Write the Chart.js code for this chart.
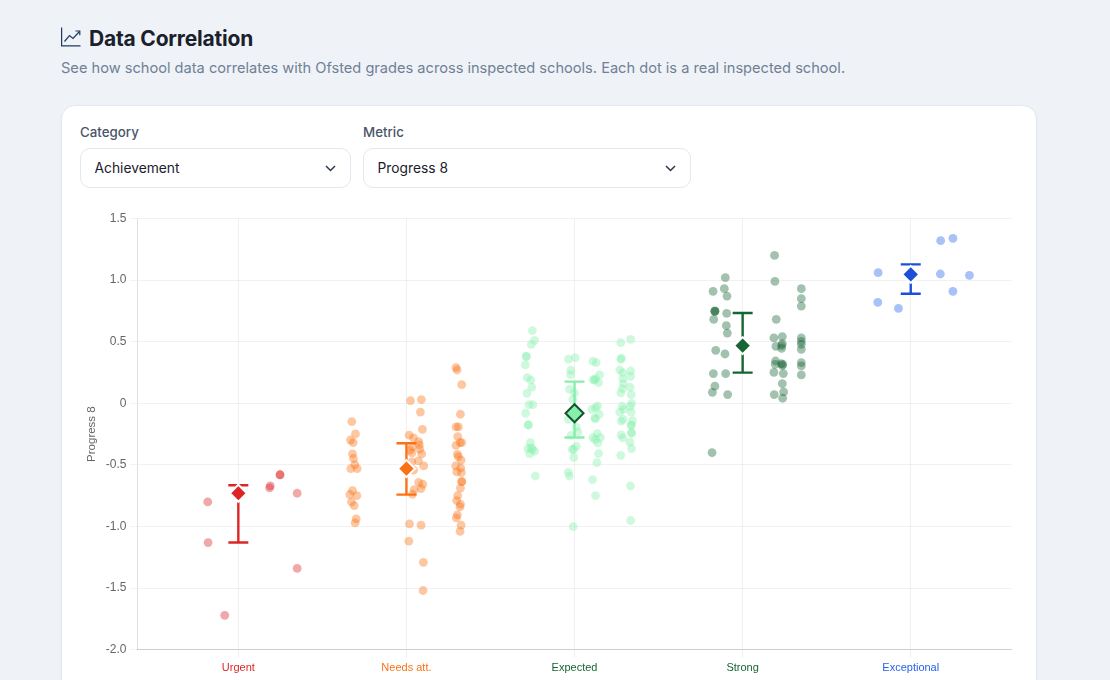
<!DOCTYPE html>
<html lang="en">
<head>
<meta charset="utf-8">
<title>Data Correlation</title>
<script src="https://cdn.jsdelivr.net/npm/chart.js@4/dist/chart.umd.min.js"></script>
<style>
  html, body { margin: 0; height: 100%; overflow: hidden; background: #eff3f8; font-family: Inter, sans-serif; }
  .page { position: relative; width: 1110px; height: 680px; overflow: hidden; }
  .heading { position: absolute; left: 61px; top: 24px; display: flex; align-items: center; gap: 8px; }
  .heading svg { margin-top: -3px; }
  .heading h1 { margin: 0; font-size: 21px; line-height: 29px; font-weight: 700; color: #1a202c; letter-spacing: -0.2px; }
  .intro { position: absolute; left: 61px; top: 58px; margin: 0; font-size: 14.62px; line-height: 20px; color: #718096; }
  .card { position: absolute; left: 61px; top: 105px; width: 974px; height: 640px; background: #fff; border: 1px solid #e2e8f0; border-radius: 14px; box-shadow: 0 1px 3px rgba(0,0,0,0.03); }
  .field { position: absolute; top: 124px; }
  .field label { display: block; font-size: 13.3px; line-height: 16px; font-weight: 550; color: #4a5568; margin-bottom: 8px; }
  .field select { appearance: none; display: block; height: 40px; box-sizing: border-box; padding: 0 13.5px; border: 1px solid #e2e8f0; border-radius: 10px; background: #fff; font: 13.8px Inter, sans-serif; color: #1a202c; }
  .field svg { position: absolute; right: 15px; top: 41px; }
  .plot { position: absolute; left: 81px; top: 206px; width: 943px; height: 473px; }
</style>
</head>
<body>
<div class="page">
  <div class="heading">
    <svg width="20" height="20" viewBox="0 0 20 20" fill="none" stroke="#1e3a5f" stroke-width="1.2">
      <path d="M0.6 0.5V18.9H19.5"/>
      <path d="M3.5 14.5L8.5 8.5L12 11.5L18.5 4.5"/>
      <path d="M14.5 4H18.8V8.3"/>
    </svg>
    <h1>Data Correlation</h1>
  </div>
  <p class="intro">See how school data correlates with Ofsted grades across inspected schools. Each dot is a real inspected school.</p>
  <div class="card"></div>
  <div class="field" style="left:80px;width:271px">
    <label for="category">Category</label>
    <select id="category" style="width:271px"><option>Achievement</option></select>
    <svg width="11" height="7" viewBox="0 0 11 7" fill="none" stroke="#2d3748" stroke-width="1.5"><path d="M1 1L5.5 5.5L10 1"/></svg>
  </div>
  <div class="field" style="left:363px;width:328px">
    <label for="metric">Metric</label>
    <select id="metric" style="width:328px"><option>Progress 8</option></select>
    <svg width="11" height="7" viewBox="0 0 11 7" fill="none" stroke="#2d3748" stroke-width="1.5"><path d="M1 1L5.5 5.5L10 1"/></svg>
  </div>
  <div class="plot"><canvas id="correlationChart"></canvas></div>
</div>

<script>
const grades = ['Urgent', 'Needs att.', 'Expected', 'Strong', 'Exceptional'];
const labelColors = ['#dc2626', '#f97316', '#166534', '#166534', '#2563eb'];
const gradeColors = ['#dc2626', '#f97316', '#86efac', '#166534', '#1d4ed8'];
const dotColors = [
  'rgba(220, 38, 38, 0.4)',
  'rgba(249, 115, 22, 0.4)',
  'rgba(134, 239, 172, 0.4)',
  'rgba(22, 101, 52, 0.4)',
  'rgba(37, 99, 235, 0.4)',
];

// median and quartiles per grade
const medians = [-0.73, -0.53, -0.081, 0.468, 1.046];
const lowerQuartiles = [-1.13, -0.741, -0.278, 0.249, 0.889];
const upperQuartiles = [-0.665, -0.324, 0.176, 0.732, 1.127];

// horizontal jitter of each school around its grade, and its Progress 8 score
const urgentJitter = [-0.182, -0.18, -0.081, 0.19, 0.186, 0.248, 0.248, 0.35, 0.35];
const urgentScores = [-0.8, -1.13, -1.72, -0.67, -0.687, -0.58, -0.58, -0.73, -1.34];

const needsJitter = [
  -0.325, -0.303, -0.333, -0.317, -0.321, -0.315, -0.307, -0.331, -0.293, -0.321, -0.337, -0.295, -0.327, -0.311, -0.299, -0.305,
  0.024, 0.089, 0.083, 0.095, 0.016, 0.042, 0.073, 0.077, 0.034, 0.022, 0.079, 0.091, 0.032, 0.071, 0.032, 0.103, 0.042, 0.073, 0.097, 0.087, 0.046, 0.036, 0.018, 0.087, 0.014, 0.101, 0.099,
  0.295, 0.301, 0.329, 0.321, 0.295, 0.309, 0.305, 0.319, 0.329, 0.295, 0.303, 0.309, 0.325, 0.293, 0.323, 0.299, 0.327, 0.329, 0.329, 0.321, 0.305, 0.299, 0.321, 0.319, 0.303, 0.297, 0.325, 0.319,
];
const needsScores = [
  -0.148, -0.249, -0.298, -0.319, -0.411, -0.448, -0.497, -0.53, -0.53, -0.708, -0.74, -0.749, -0.8, -0.83, -0.938, -0.971,
  0.022, 0.03, -0.071, -0.211, -0.259, -0.281, -0.311, -0.338, -0.354, -0.381, -0.373, -0.411, -0.403, -0.468, -0.476, -0.508, -0.543, -0.641, -0.657, -0.692, -0.7, -0.738, -0.979, -0.989, -1.119, -1.29, -1.519,
  0.29, 0.27, 0.152, -0.089, -0.192, -0.192, -0.27, -0.319, -0.319, -0.341, -0.414, -0.432, -0.462, -0.508, -0.525, -0.557, -0.562, -0.635, -0.635, -0.689, -0.749, -0.789, -0.819, -0.841, -0.906, -0.93, -0.989, -1.04,
];

const expectedJitter = [
  -0.251, -0.238, -0.257, -0.287, -0.287, -0.293, -0.281, -0.26, -0.254, -0.283, -0.271, -0.248, -0.291, -0.275, -0.275, -0.263, -0.277, -0.257, -0.251, -0.238, -0.267, -0.233,
  -0.036, 0.004, -0.022, -0.024, -0.03, 0, -0.01, -0.036, 0.01, 0.02, -0.02, 0.01, -0.006, -0.014, -0.004, -0.037, -0.031, -0.008,
  0.109, 0.129, 0.149, 0.125, 0.111, 0.119, 0.143, 0.137, 0.125, 0.103, 0.147, 0.121, 0.124, 0.135, 0.109, 0.123, 0.154, 0.138, 0.143, 0.133, 0.107, 0.125,
  0.334, 0.275, 0.279, 0.275, 0.269, 0.334, 0.287, 0.333, 0.287, 0.291, 0.285, 0.331, 0.275, 0.337, 0.283, 0.34, 0.331, 0.293, 0.269, 0.337, 0.289, 0.277, 0.345, 0.337, 0.337, 0.339, 0.339, 0.277, 0.287, 0.329, 0.339, 0.275, 0.333, 0.334,
];
const expectedScores = [
  0.59, 0.511, 0.478, 0.381, 0.381, 0.311, 0.208, 0.189, 0.13, 0.081, -0.011, -0.011, -0.081, -0.176, -0.176, -0.319, -0.367, -0.359, -0.375, -0.389, -0.408, -0.59,
  0.359, 0.371, 0.268, 0.233, 0.114, 0.084, 0.032, -0.13, -0.192, -0.233, -0.26, -0.349, -0.373, -0.375, -0.438, -0.56, -0.59, -1,
  0.341, 0.33, 0.23, 0.2, 0.192, 0.187, 0.168, -0.022, -0.035, -0.049, -0.089, -0.119, -0.127, -0.246, -0.278, -0.294, -0.278, -0.322, -0.408, -0.481, -0.619, -0.749,
  0.519, 0.492, 0.367, 0.357, 0.27, 0.262, 0.249, 0.219, 0.2, 0.16, 0.119, 0.13, 0.084, 0.071, -0.024, 0, -0.024, -0.049, -0.071, -0.071, -0.13, -0.144, -0.14, -0.178, -0.178, -0.241, -0.241, -0.257, -0.281, -0.316, -0.367, -0.422, -0.671, -0.951,
];

const strongJitter = [
  -0.103, -0.176, -0.109, -0.093, -0.165, -0.165, -0.165, -0.095, -0.172, -0.097, -0.091, -0.16, -0.105, -0.174, -0.101, -0.165, -0.18, -0.089, -0.182,
  0.19, 0.192, 0.2, 0.186, 0.236, 0.198, 0.236, 0.232, 0.232, 0.196, 0.194, 0.23, 0.239, 0.236, 0.186, 0.242, 0.236, 0.244, 0.188, 0.238,
  0.349, 0.349, 0.349, 0.349, 0.349, 0.349, 0.349, 0.349, 0.349, 0.349,
];
const strongScores = [
  1.019, 0.908, 0.93, 0.87, 0.746, 0.746, 0.75, 0.73, 0.681, 0.63, 0.57, 0.43, 0.4, 0.241, 0.241, 0.14, 0.089, 0.071, -0.4,
  1.2, 0.989, 0.681, 0.53, 0.541, 0.462, 0.484, 0.468, 0.446, 0.343, 0.316, 0.322, 0.316, 0.306, 0.251, 0.241, 0.16, 0.092, 0.071, 0.041,
  0.93, 0.849, 0.789, 0.53, 0.503, 0.478, 0.438, 0.33, 0.303, 0.23,
];

const exceptionalJitter = [0.178, 0.251, -0.194, 0.176, 0.349, 0.251, -0.196, -0.073];
const exceptionalScores = [1.319, 1.338, 1.06, 1.049, 1.038, 0.908, 0.819, 0.77];

const schoolJitter = [urgentJitter, needsJitter, expectedJitter, strongJitter, exceptionalJitter];
const schoolScores = [urgentScores, needsScores, expectedScores, strongScores, exceptionalScores];

const medianDiamonds = {
  type: 'scatter',
  data: grades.map((_, i) => ({ x: i, y: medians[i] })),
  pointStyle: 'rectRot',
  pointRadius: grades.map((_, i) => (i === 2 ? 9 : 8.5)),
  pointBorderWidth: 2,
  pointBackgroundColor: gradeColors,
  pointBorderColor: grades.map((_, i) => (i === 2 ? '#14532d' : '#ffffff')),
  order: 0,
};

const whiskers = grades.map((_, i) => ({
  type: 'line',
  data: [{ x: i, y: lowerQuartiles[i] }, { x: i, y: upperQuartiles[i] }],
  borderColor: gradeColors[i],
  borderWidth: 2.4,
  pointStyle: 'line',
  pointRadius: 10,
  pointBorderColor: gradeColors[i],
  pointBorderWidth: 2.4,
  order: 1,
}));

const schoolDots = grades.map((_, i) => ({
  type: 'scatter',
  data: schoolJitter[i].map((j, k) => ({ x: i + j, y: schoolScores[i][k] })),
  pointRadius: 4.4,
  pointBackgroundColor: dotColors[i],
  pointBorderColor: 'transparent',
  pointBorderWidth: 0,
  order: 2,
}));

new Chart(document.getElementById('correlationChart'), {
  data: { datasets: [medianDiamonds, ...whiskers, ...schoolDots] },
  options: {
    responsive: true,
    maintainAspectRatio: false,
    animation: false,
    events: [],
    plugins: { legend: { display: false }, tooltip: { enabled: false } },
    scales: {
      x: {
        type: 'linear',
        min: -0.6,
        max: 4.6,
        afterBuildTicks: (axis) => {
          axis.ticks = grades.map((_, i) => ({ value: i }));
        },
        grid: { color: 'rgba(0, 0, 0, 0.06)', tickLength: 8 },
        border: { color: 'rgba(0, 0, 0, 0.15)' },
        ticks: {
          autoSkip: false,
          maxRotation: 0,
          padding: 4,
          font: { family: 'Liberation Sans', size: 11 },
          color: labelColors,
          callback: (value) => grades[value],
        },
      },
      y: {
        min: -2,
        max: 1.5,
        ticks: {
          stepSize: 0.5,
          font: { family: 'Liberation Sans', size: 12 },
          color: '#666666',
        },
        grid: { color: 'rgba(0, 0, 0, 0.05)', tickLength: 8 },
        border: { color: 'rgba(0, 0, 0, 0.12)' },
        title: {
          display: true,
          text: 'Progress 8',
          font: { family: 'Liberation Sans', size: 11.5 },
          color: '#666666',
        },
      },
    },
  },
});
</script>
</body>
</html>
